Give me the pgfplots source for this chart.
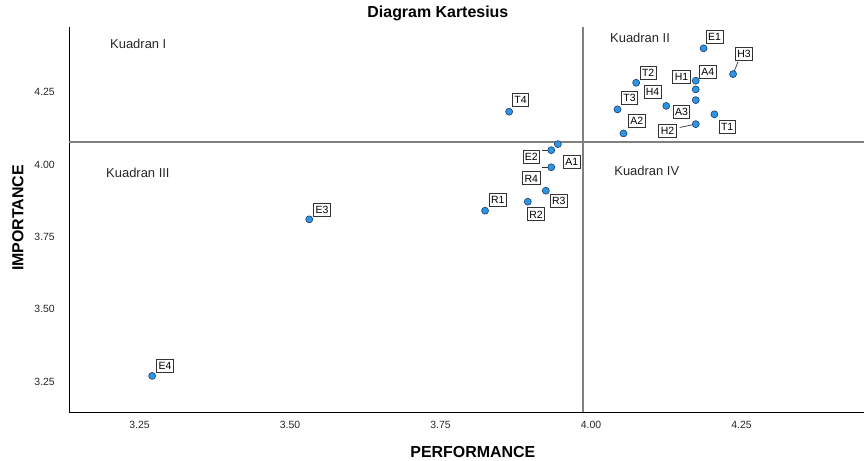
\documentclass[border=0pt]{standalone}
\usepackage{pgfplots}
\pgfplotsset{compat=1.18}
\usepackage{pgfplotstable}
\usepackage{fontspec}
\setmainfont{Liberation Sans}
\definecolor{ptfill}{RGB}{44,150,228}
\definecolor{ptdraw}{RGB}{25,60,110}
\definecolor{refgray}{RGB}{128,128,128}

\pgfplotstableread{
x y lab dx dy lx ly
4.187 4.402 E1 11 11.6 0 0
4.236 4.313 H3 11 20.3 0.0083 0.0425
4.174 4.290 A4 12 8.7 0 0
4.174 4.260 H1 -14.3 12.3 0 0
4.174 4.223 A3 -14.3 -12 0 0
4.174 4.140 H2 -28.3 -6.3 -0.0266 -0.0115
4.075 4.283 T2 12 9.7 0 0
4.125 4.203 H4 -13.7 14 0 0
4.044 4.191 T3 12 12 0 0
4.205 4.174 T1 12.7 -12.7 0 0
4.054 4.108 A2 13.3 12.3 0 0
3.864 4.183 T4 11.4 11.7 0 0
3.945 4.071 A1 14 -17.7 0 0
3.934 4.050 E2 -20 -6.3 -0.0155 0
3.934 3.991 R4 -20 -11 -0.0155 0
3.925 3.910 R3 13 -10.3 0 0
3.895 3.872 R2 8.3 -12.6 0 0
3.824 3.841 R1 12.7 10.7 0 0
3.532 3.811 E3 12.7 10 0 0
3.271 3.270 E4 13 10.4 0 0
}\data

\begin{document}
\begin{tikzpicture}
\begin{axis}[
  scale only axis, width=795bp, height=385bp,
  xmin=3.1329, xmax=4.4535, ymin=3.1453, ymax=4.4757,
  axis x line*=bottom, axis y line*=left,
  axis line style={black, line width=0.8bp},
  xtick={3.25,3.5,3.75,4,4.25}, ytick={3.25,3.5,3.75,4,4.25},
  major tick length=0pt,
  /pgf/number format/.cd, fixed, fixed zerofill, precision=2, assume math mode=true,
  /pgfplots/.cd,
  ticklabel style={font=\fontsize{10.5}{12}\selectfont, text=black!85},
  xticklabel style={anchor=center, yshift=-13bp},
  yticklabel style={anchor=east, inner sep=0pt, xshift=-14bp},
  xlabel={PERFORMANCE}, ylabel={IMPORTANCE},
  label style={font=\bfseries\fontsize{16}{19}\selectfont},
  xlabel style={at={(axis description cs:0.508,-0.1039)}, anchor=center},
  ylabel style={at={(axis description cs:-0.0642,0.504)}, anchor=center},
  title={Diagram Kartesius},
  title style={at={(axis description cs:0.464,1.021)}, anchor=center, font=\bfseries\fontsize{16}{19}\selectfont},
  clip=false,
]
\addplot[refgray, line width=2bp, forget plot] coordinates {(3.9867,3.1453) (3.9867,4.4757)};
\addplot[refgray, line width=2bp, forget plot] coordinates {(3.1329,4.0792) (4.4535,4.0792)};
\addplot[black!80, line width=0.7bp, mark=none, quiver={u=\thisrow{lx}, v=\thisrow{ly}}, forget plot] table[x=x, y=y] {\data};
\addplot[only marks, mark=*, mark size=3.5bp,
  mark options={fill=ptfill, draw=ptdraw, line width=0.6bp},
  point meta=explicit symbolic,
  nodes near coords,
  visualization depends on={\thisrow{dx}\as\dx},
  visualization depends on={\thisrow{dy}\as\dy},
  every node near coord/.append style={anchor=center, xshift=\dx bp, yshift=\dy bp,
    rectangle, draw=black!80, fill=white, text=black, line width=0.7bp,
    font=\fontsize{10.5}{12}\selectfont, inner xsep=2bp, inner ysep=2.7bp,
    text height=7.6bp, text depth=0pt},
] table[x=x, y=y, meta=lab] {\data};
\node[anchor=west, font=\fontsize{13}{15}\selectfont, text=black!85] at (axis cs:3.1955,4.416) {Kuadran I};
\node[anchor=west, font=\fontsize{13}{15}\selectfont, text=black!85] at (axis cs:3.1889,3.972) {Kuadran III};
\node[anchor=west, font=\fontsize{13}{15}\selectfont, text=black!85] at (axis cs:4.026,4.437) {Kuadran II};
\node[anchor=west, font=\fontsize{13}{15}\selectfont, text=black!85] at (axis cs:4.033,3.979) {Kuadran IV};
\end{axis}
\pgfresetboundingbox
\path[use as bounding box] (-69bp,-49bp) rectangle (795bp,412bp);
\end{tikzpicture}
\end{document}
